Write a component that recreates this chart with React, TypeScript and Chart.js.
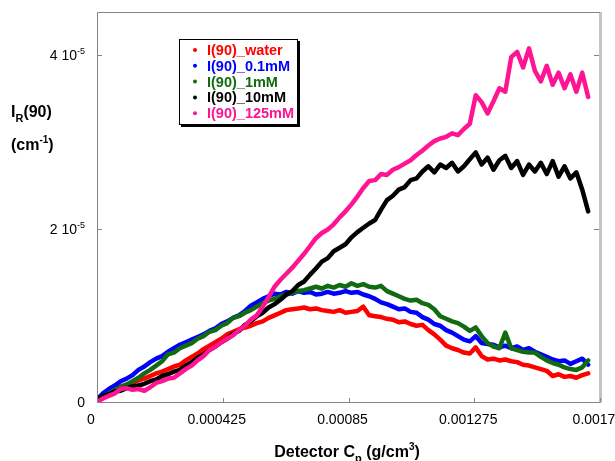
import { useEffect, useRef } from "react";
import { Chart, registerables } from "chart.js";

Chart.register(...registerables);

// Detector concentration samples (g/cm^3), one reading every 2e-5 g/cm^3
const CP_STEP = 0.00002;
const CP_SAMPLES = Array.from({ length: 84 }, (_, i) => i * CP_STEP);

// Rayleigh ratio I_R(90), in units of 1e-5 cm^-1
const WATER = [
  0.02, 0.07, 0.12, 0.15, 0.18, 0.2, 0.22, 0.25, 0.27, 0.3,
  0.33, 0.35, 0.38, 0.41, 0.43, 0.48, 0.52, 0.56, 0.61, 0.65,
  0.69, 0.73, 0.78, 0.81, 0.84, 0.86, 0.88, 0.91, 0.93, 0.97,
  1.0, 1.03, 1.06, 1.07, 1.08, 1.09, 1.07, 1.08, 1.06, 1.05,
  1.04, 1.06, 1.03, 1.04, 1.05, 1.1, 1.0, 0.99, 0.98, 0.96,
  0.95, 0.92, 0.93, 0.9, 0.88, 0.89, 0.83, 0.78, 0.72, 0.65,
  0.62, 0.6, 0.57, 0.56, 0.63, 0.53, 0.49, 0.5, 0.48, 0.49,
  0.47, 0.46, 0.43, 0.42, 0.4, 0.38, 0.36, 0.3, 0.32, 0.29,
  0.3, 0.28, 0.31, 0.33,
];
const MM_0_1 = [
  0.03, 0.1, 0.15, 0.19, 0.24, 0.27, 0.31, 0.37, 0.41, 0.46,
  0.5, 0.53, 0.58, 0.62, 0.66, 0.69, 0.72, 0.75, 0.78, 0.82,
  0.85, 0.9, 0.93, 0.97, 1.0, 1.05, 1.11, 1.15, 1.19, 1.22,
  1.25, 1.24, 1.27, 1.25, 1.28, 1.26, 1.27, 1.24, 1.25, 1.27,
  1.25, 1.26, 1.28, 1.26, 1.27, 1.24, 1.22, 1.19, 1.15, 1.13,
  1.1, 1.07, 1.08, 1.04, 1.03, 0.98, 0.95, 0.9, 0.88, 0.83,
  0.8, 0.76, 0.72, 0.7, 0.76, 0.68, 0.67, 0.66, 0.63, 0.65,
  0.62, 0.64, 0.6, 0.62, 0.58, 0.55, 0.52, 0.49, 0.47, 0.48,
  0.44, 0.47, 0.5, 0.43,
];
const MM_1 = [
  0.03, 0.06, 0.1, 0.14, 0.17, 0.2, 0.24, 0.28, 0.33, 0.37,
  0.42, 0.47, 0.55, 0.57, 0.62, 0.65, 0.68, 0.73, 0.76, 0.81,
  0.83, 0.88, 0.91, 0.97, 0.99, 1.03, 1.06, 1.1, 1.14, 1.17,
  1.19, 1.22, 1.24, 1.26, 1.28, 1.29, 1.31, 1.33, 1.31, 1.34,
  1.32, 1.35, 1.33, 1.37, 1.34, 1.36, 1.33, 1.32, 1.34, 1.28,
  1.25, 1.22, 1.19, 1.17, 1.18, 1.14, 1.12, 1.07, 0.99, 0.96,
  0.93, 0.91, 0.87, 0.82, 0.86, 0.76, 0.68, 0.64, 0.62, 0.8,
  0.62, 0.6, 0.58, 0.57, 0.57, 0.52, 0.48, 0.45, 0.43, 0.4,
  0.38, 0.37, 0.4, 0.48,
];
const MM_10 = [
  0.03, 0.07, 0.09, 0.12, 0.13, 0.16, 0.18, 0.19, 0.21, 0.24,
  0.26, 0.3, 0.32, 0.35, 0.37, 0.42, 0.46, 0.51, 0.55, 0.6,
  0.64, 0.69, 0.73, 0.79, 0.82, 0.89, 0.93, 0.99, 1.03, 1.09,
  1.13, 1.18, 1.24, 1.28, 1.35, 1.39, 1.47, 1.54, 1.62, 1.66,
  1.74, 1.78, 1.82, 1.9, 1.96, 2.01, 2.06, 2.1, 2.22, 2.33,
  2.38, 2.45, 2.48, 2.56, 2.58, 2.66, 2.72, 2.65, 2.74, 2.7,
  2.76, 2.66, 2.72, 2.8, 2.88, 2.74, 2.82, 2.68, 2.79, 2.84,
  2.7, 2.78, 2.62, 2.74, 2.66, 2.76, 2.63, 2.78, 2.6, 2.72,
  2.58, 2.65, 2.45, 2.2,
];
const MM_125 = [
  0.0, 0.04, 0.07, 0.1, 0.15, 0.16, 0.14, 0.15, 0.13, 0.17,
  0.22, 0.24, 0.27, 0.28, 0.33, 0.38, 0.42, 0.48, 0.53, 0.6,
  0.64, 0.69, 0.73, 0.77, 0.83, 0.88, 0.95, 1.0, 1.1, 1.21,
  1.33, 1.41, 1.48, 1.55, 1.63, 1.71, 1.8, 1.89, 1.95, 1.99,
  2.05, 2.13, 2.2, 2.28, 2.37, 2.47, 2.55, 2.56, 2.63, 2.62,
  2.68, 2.71, 2.75, 2.79, 2.85, 2.9, 2.96, 3.01, 3.04, 3.06,
  3.1, 3.08, 3.15, 3.21, 3.54, 3.46, 3.33, 3.47, 3.62, 3.58,
  3.98, 4.04, 3.86, 4.08, 3.82, 3.7, 3.88, 3.66, 3.8, 3.62,
  3.78, 3.58, 3.8, 3.52,
];

const SERIES_LABELS = ["I(90)_water", "I(90)_0.1mM", "I(90)_1mM", "I(90)_10mM", "I(90)_125mM"];
const SERIES_VALUES = [WATER, MM_0_1, MM_1, MM_10, MM_125];
const SERIES_COLORS = ["#ff0000", "#0000ff", "#116b11", "#000000", "#ff1493"];

const X_TICKS = [0, 0.000425, 0.00085, 0.001275, 0.0017];
const X_TICK_LABELS = ["0", "0.000425", "0.00085", "0.001275", "0.0017"];
const Y_TICKS = [0, 2, 4];
const Y_MAX = 4.5;

const FONT = "'Liberation Sans', Arial, Helvetica, sans-serif";

type Seg = { t: string; size: number; dy?: number };

function drawRich(ctx: CanvasRenderingContext2D, segs: Seg[], x: number, y: number, bold: boolean, align: "left" | "center" | "right", color: string) {
  const w = bold ? "bold " : "";
  let total = 0;
  for (const s of segs) {
    ctx.font = `${w}${s.size}px ${FONT}`;
    total += ctx.measureText(s.t).width;
  }
  let cx = align === "left" ? x : align === "center" ? x - total / 2 : x - total;
  ctx.fillStyle = color;
  ctx.textBaseline = "alphabetic";
  ctx.textAlign = "left";
  for (const s of segs) {
    ctx.font = `${w}${s.size}px ${FONT}`;
    ctx.fillText(s.t, cx, y + (s.dy || 0));
    cx += ctx.measureText(s.t).width;
  }
}

const decorations = {
  id: "decorations",
  afterDraw(chart: any) {
    const ctx: CanvasRenderingContext2D = chart.ctx;
    const { left, right, top, bottom } = chart.chartArea;
    const xs = chart.scales.x;
    const ys = chart.scales.y;
    ctx.save();

    // frame
    ctx.strokeStyle = "#c4c4c4";
    ctx.lineWidth = 3;
    ctx.beginPath();
    ctx.moveTo(right + 0.5, top);
    ctx.lineTo(right + 0.5, bottom + 1);
    ctx.stroke();
    ctx.strokeStyle = "#858585";
    ctx.lineWidth = 1;
    ctx.beginPath();
    ctx.moveTo(left + 0.5, bottom + 0.5);
    ctx.lineTo(left + 0.5, top + 0.5);
    ctx.lineTo(right, top + 0.5);
    ctx.moveTo(left, bottom + 0.5);
    ctx.lineTo(right, bottom + 0.5);
    ctx.stroke();

    // inward tick marks
    ctx.beginPath();
    for (const v of X_TICKS) {
      const px = Math.round(xs.getPixelForValue(v)) + 0.5;
      ctx.moveTo(px, bottom);
      ctx.lineTo(px, bottom - 4);
    }
    for (const v of Y_TICKS) {
      const py = Math.round(ys.getPixelForValue(v)) + 0.5;
      ctx.moveTo(left, py);
      ctx.lineTo(left + 5, py);
      ctx.moveTo(right - 1, py);
      ctx.lineTo(right - 6, py);
    }
    ctx.stroke();

    // x tick labels
    X_TICKS.forEach((v, i) => {
      const px = xs.getPixelForValue(v);
      drawRich(ctx, [{ t: X_TICK_LABELS[i], size: 14 }], px - 6, bottom + 22, false, "center", "#000");
    });

    // y tick labels
    for (const v of Y_TICKS) {
      const py = ys.getPixelForValue(v);
      const segs: Seg[] = v === 0 ? [{ t: "0", size: 14 }] : [{ t: `${v} 10`, size: 14 }, { t: "-5", size: 9, dy: -6 }];
      drawRich(ctx, segs, left - 12, py + 5, false, "right", "#000");
    }

    // axis titles
    drawRich(ctx, [
      { t: "Detector C", size: 16 },
      { t: "p", size: 11, dy: 5 },
      { t: " (g/cm", size: 16 },
      { t: "3", size: 10, dy: -7 },
      { t: ")", size: 16 },
    ], 347, 457, true, "center", "#000");
    drawRich(ctx, [
      { t: "I", size: 16 },
      { t: "R", size: 11, dy: 5 },
      { t: "(90)", size: 16 },
    ], 11, 117, true, "left", "#000");
    drawRich(ctx, [
      { t: "(cm", size: 16 },
      { t: "-1", size: 10, dy: -7 },
      { t: ")", size: 16 },
    ], 11, 150, true, "left", "#000");

    // legend box
    const lx = 179, ly = 39, lw = 119, lh = 86;
    ctx.fillStyle = "#000";
    ctx.fillRect(lx + 2, ly + 2, lw, lh);
    ctx.fillStyle = "#fff";
    ctx.fillRect(lx, ly, lw, lh);
    ctx.strokeStyle = "#000";
    ctx.lineWidth = 1;
    ctx.strokeRect(lx + 0.5, ly + 0.5, lw - 1, lh - 1);
    chart.data.datasets.forEach((ds: any, i: number) => {
      const ry = 50 + i * 15.8;
      ctx.fillStyle = ds.borderColor;
      ctx.beginPath();
      ctx.arc(195, ry, 2, 0, Math.PI * 2);
      ctx.fill();
      ctx.font = `bold 14.5px ${FONT}`;
      ctx.textAlign = "left";
      ctx.textBaseline = "middle";
      ctx.fillText(ds.label, 207, ry + 1);
    });

    ctx.restore();
  },
};

export default function App() {
  const canvasRef = useRef<HTMLCanvasElement | null>(null);

  useEffect(() => {
    const canvas = canvasRef.current;
    if (!canvas) return;
    const datasets = SERIES_VALUES.map((vals, i) => ({
      label: SERIES_LABELS[i],
      data: vals.map((v, k) => ({ x: CP_SAMPLES[k], y: v })),
      borderColor: SERIES_COLORS[i],
      backgroundColor: SERIES_COLORS[i],
      borderWidth: 4.5,
      borderJoinStyle: "round" as const,
      borderCapStyle: "round" as const,
      pointRadius: 0,
      tension: 0,
      order: SERIES_VALUES.length - i,
    }));

    const chart = new Chart(canvas, {
      type: "line",
      data: { datasets },
      options: {
        animation: false,
        responsive: false,
        devicePixelRatio: 1,
        layout: { padding: { top: 12, right: 15, left: 0, bottom: 0 } },
        plugins: { legend: { display: false }, tooltip: { enabled: false } },
        scales: {
          x: {
            type: "linear",
            min: 0,
            max: 0.0017,
            grid: { display: false, drawTicks: false },
            border: { display: false },
            ticks: { display: false },
            afterFit: (scale: any) => {
              scale.height = 59;
            },
          },
          y: {
            type: "linear",
            min: 0,
            max: Y_MAX,
            grid: { display: false, drawTicks: false },
            border: { display: false },
            ticks: { display: false },
            afterFit: (scale: any) => {
              scale.width = 97;
            },
          },
        },
      },
      plugins: [decorations],
    });
    return () => chart.destroy();
  }, []);

  return (
    <div style={{ position: "fixed", left: 0, top: 0, width: 615, height: 461, background: "#fff" }}>
      <canvas ref={canvasRef} width={615} height={461} />
    </div>
  );
}
